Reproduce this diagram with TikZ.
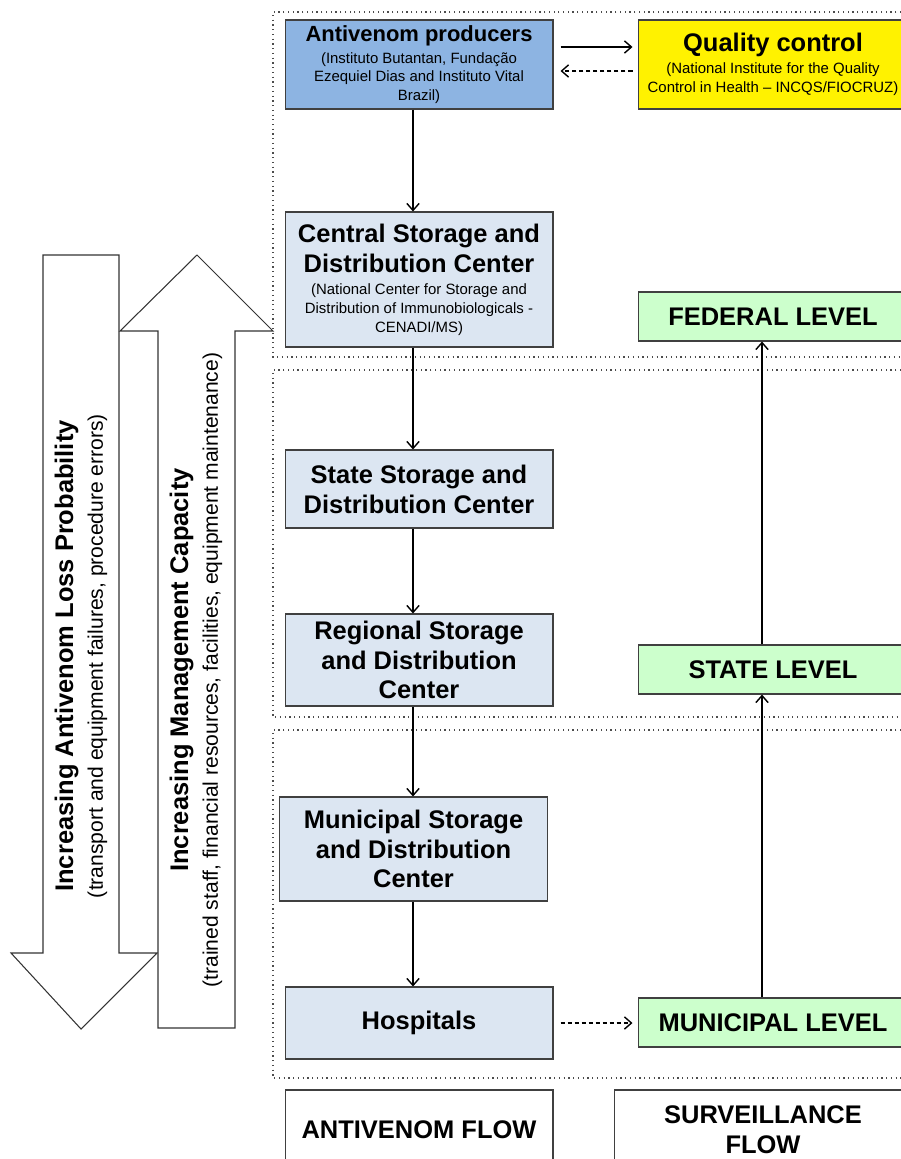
\documentclass[tikz,border=0pt]{standalone}
\usepackage{fontspec}
\setmainfont{Liberation Sans}
\usetikzlibrary{arrows.meta}
\tikzset{>={Straight Barb[length=4pt,width=7pt]}}

\definecolor{prodblue}{HTML}{8DB4E2}
\definecolor{paleblue}{HTML}{DCE6F2}
\definecolor{palegreen}{HTML}{CCFFCC}

\newcommand{\boxhead}{\fontsize{14.5}{17}\selectfont\bfseries}
\newcommand{\boxnote}{\fontsize{8.5}{10.6}\selectfont\mdseries}
\newcommand{\arrownote}{\fontsize{12}{18}\selectfont\mdseries}

\begin{document}
\begin{tikzpicture}[x=0.02cm, y=-0.02cm,
    box/.style={draw=black!75, line width=0.6pt, align=center, inner sep=0pt, minimum width=5.36cm},
    flowbox/.style={box, fill=paleblue, font=\boxhead},
    lvl/.style={box, fill=palegreen, minimum width=5.4cm, minimum height=0.98cm, font=\boxhead},
    zone/.style={dotted, line width=0.7pt, black!70},
    bigarrow/.style={draw=black!80, fill=white, line width=0.6pt},
    flow/.style={->, line width=0.8pt},
    back/.style={->, line width=0.8pt, dash pattern=on 2.5pt off 1.5pt}]

    \useasboundingbox (0,0) rectangle (901,1159);

    % dotted zones
    \draw[zone] (920,12) -- (273,12) -- (273,357) -- (920,357);
    \draw[zone] (920,370) -- (273,370) -- (273,717) -- (920,717);
    \draw[zone] (920,730) -- (273,730) -- (273,1078) -- (920,1078);

    % big arrows
    \draw[bigarrow] (43,255) -- (119,255) -- (119,953) -- (157,953) -- (81,1029) -- (11,953) -- (43,953) -- cycle;
    \draw[bigarrow] (158,1028) -- (158,331) -- (120,331) -- (197,255) -- (273,331) -- (235,331) -- (235,1028) -- cycle;
    \node[rotate=90, align=center, font=\boxhead] (loss) at (81,656)
        {Increasing Antivenom Loss Probability\\ \arrownote (transport and equipment failures, procedure errors)};
    \node[rotate=90, align=center, font=\boxhead] (capacity) at (196,670)
        {Increasing Management Capacity\\ \arrownote (trained staff, financial resources, facilities, equipment maintenance)};

    % antivenom flow
    \node[box, fill=prodblue, minimum height=1.78cm, font=\boxnote] (prod) at (419,64.5)
        {{\fontsize{12.5}{15}\selectfont\bfseries Antivenom producers}\\[2pt] (Instituto Butantan, Fundação\\ Ezequiel Dias and Instituto Vital\\ Brazil)};
    \node[flowbox, minimum height=2.7cm] (central) at (419,279.5)
        {Central Storage and\\ Distribution Center\\[-4.5pt] \boxnote (National Center for Storage and\\[-6.2pt] \boxnote Distribution of Immunobiologicals -\\[-6.2pt] \boxnote CENADI/MS)};
    \node[flowbox, minimum height=1.56cm] (state) at (419,489) {State Storage and\\ Distribution Center};
    \node[flowbox, minimum height=1.84cm] (regional) at (419,660) {Regional Storage\\ and Distribution\\ Center};
    \node[flowbox, minimum height=2.08cm] (municipal) at (413.5,849) {Municipal Storage\\ and Distribution\\ Center};
    \node[flowbox, minimum height=1.44cm] (hosp) at (419,1023) {Hospitals};

    % quality control and surveillance levels
    \node[box, fill=yellow, minimum width=5.4cm, minimum height=1.78cm, font=\boxnote] (qc) at (773,64.5)
        {{\boxhead Quality control}\\[2pt] (National Institute for the Quality\\ Control in Health -- INCQS/FIOCRUZ)};
    \node[lvl] (federal) at (773,316.5) {FEDERAL LEVEL};
    \node[lvl] (statelvl) at (773,669.5) {STATE LEVEL};
    \node[lvl] (munlvl) at (773,1022.5) {MUNICIPAL LEVEL};

    % legend
    \node[box, fill=white, minimum height=1.6cm, font=\boxhead] (antiflow) at (419,1130) {ANTIVENOM FLOW};
    \node[box, fill=white, minimum width=5.96cm, minimum height=1.6cm, font=\boxhead] (survflow) at (763,1130) {SURVEILLANCE\\ FLOW};

    % connectors
    \draw[flow] ([xshift=-0.12cm]prod.south) -- ([xshift=-0.12cm]central.north);
    \draw[flow] ([xshift=-0.12cm]central.south) -- ([xshift=-0.12cm]state.north);
    \draw[flow] ([xshift=-0.12cm]state.south) -- ([xshift=-0.12cm]regional.north);
    \draw[flow] ([xshift=-0.12cm]regional.south) -- ([xshift=-0.12cm]regional.south |- municipal.north);
    \draw[flow] ([xshift=-0.01cm]municipal.south) -- ([xshift=-0.01cm]municipal.south |- hosp.north);
    \draw[flow, shorten <=0.14cm, shorten >=0.1cm] ([yshift=0.35cm]prod.east) -- ([yshift=0.35cm]prod.east -| qc.west);
    \draw[back, shorten <=0.1cm, shorten >=0.14cm] ([yshift=-0.13cm]prod.east -| qc.west) -- ([yshift=-0.13cm]prod.east);
    \draw[back, shorten <=0.14cm, shorten >=0.1cm] (hosp.east) -- (hosp.east -| munlvl.west);
    \draw[flow] ([xshift=-0.22cm]munlvl.north) -- ([xshift=-0.22cm]statelvl.south);
    \draw[flow] ([xshift=-0.22cm]statelvl.north) -- ([xshift=-0.22cm]federal.south);
\end{tikzpicture}
\end{document}
